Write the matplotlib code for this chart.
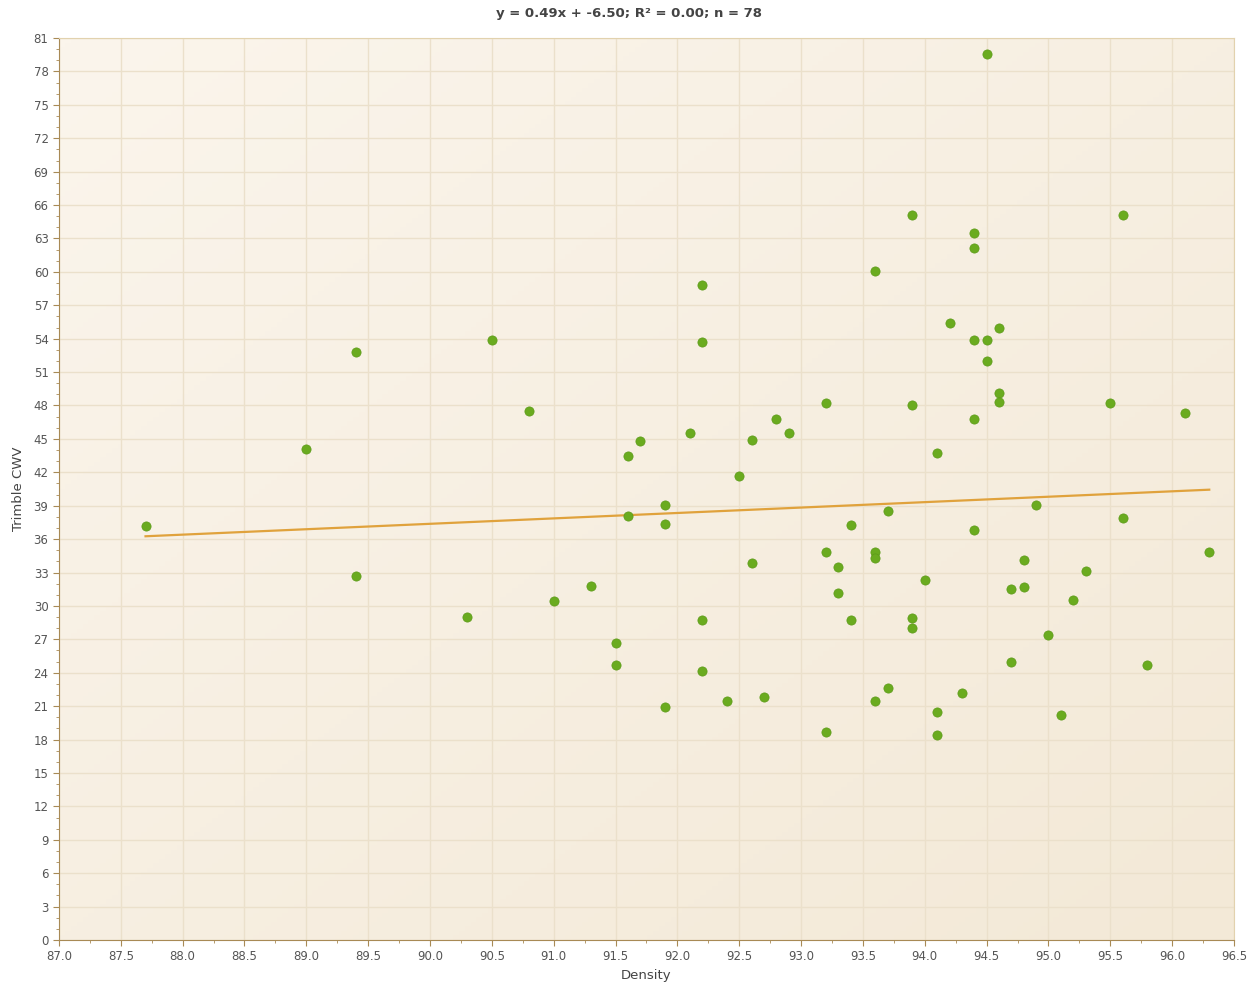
import numpy as np
import matplotlib
matplotlib.use("Agg")
import matplotlib.pyplot as plt
from matplotlib.colors import LinearSegmentedColormap
from matplotlib.ticker import MultipleLocator, FormatStrFormatter

density = [87.7, 89.0, 89.4, 89.4, 90.3, 90.5, 90.8, 91.0, 91.3, 91.5,
           91.5, 91.6, 91.6, 91.7, 91.9, 91.9, 91.9, 92.1, 92.2, 92.2,
           92.2, 92.2, 92.4, 92.5, 92.6, 92.6, 92.7, 92.8, 92.9, 93.2,
           93.2, 93.2, 93.3, 93.3, 93.4, 93.4, 93.6, 93.6, 93.6, 93.6,
           93.7, 93.7, 93.9, 93.9, 93.9, 93.9, 94.0, 94.1, 94.1, 94.1,
           94.2, 94.3, 94.4, 94.4, 94.4, 94.4, 94.4, 94.5, 94.5, 94.5,
           94.6, 94.6, 94.6, 94.7, 94.7, 94.8, 94.8, 94.9, 95.0, 95.1,
           95.2, 95.3, 95.5, 95.6, 95.6, 95.8, 96.1, 96.3]
cwv = [37.2, 44.1, 52.8, 32.7, 29.0, 53.9, 47.5, 30.4, 31.8, 26.7,
       24.7, 43.5, 38.1, 44.8, 39.1, 37.4, 20.9, 45.5, 58.8, 53.7,
       28.7, 24.2, 21.5, 41.7, 44.9, 33.9, 21.8, 46.8, 45.5, 48.2,
       34.8, 18.7, 33.5, 31.2, 37.3, 28.7, 60.1, 34.8, 34.3, 21.5,
       38.5, 22.6, 65.1, 48.0, 28.9, 28.0, 32.3, 43.7, 20.5, 18.4,
       55.4, 22.2, 63.5, 62.1, 53.9, 46.8, 36.8, 79.6, 53.9, 52.0,
       55.0, 49.1, 48.3, 31.5, 25.0, 34.1, 31.7, 39.1, 27.4, 20.2,
       30.5, 33.1, 48.2, 65.1, 37.9, 24.7, 47.3, 34.8]
title = "y = 0.49x + -6.50; R\u00b2 = 0.00; n = 78"

fig = plt.figure(figsize=(12.57, 9.9), dpi=100)
ax = fig.add_axes([0.0469, 0.0505, 0.9348, 0.9111])

# soft cream gradient, light at top-left, warmer at bottom-right
cmap = LinearSegmentedColormap.from_list("bg", ["#fbf5ec", "#f3e9d7"])
gx, gy = np.meshgrid(np.linspace(0, 1, 200), np.linspace(0, 1, 200))
ax.imshow(gx * 0.5 + gy * 0.5, cmap=cmap, extent=[0, 1, 0, 1],
          transform=ax.transAxes, aspect="auto", zorder=0)

x = np.array(density)
y = np.array(cwv)
k, b = np.polyfit(x, y, 1)
xs = np.array([x.min(), x.max()])
ax.plot(xs, k * xs + b, color="#e0a23c", lw=1.6, zorder=3)
ax.scatter(x, y, s=44, color="#6aab1f", edgecolors="#5c9a18",
           linewidths=0.5, zorder=4)

ax.set_xlim(87.0, 96.5)
ax.set_ylim(0, 81)
ax.xaxis.set_major_locator(MultipleLocator(0.5))
ax.xaxis.set_minor_locator(MultipleLocator(0.25))
ax.yaxis.set_major_locator(MultipleLocator(3))
ax.yaxis.set_minor_locator(MultipleLocator(1))
ax.xaxis.set_major_formatter(FormatStrFormatter("%.1f"))
ax.grid(True, which="major", color="#ebe0cb", lw=1.0, zorder=1)
ax.set_axisbelow(True)

for side in ["top", "right"]:
    ax.spines[side].set_color("#e2d2ae")
for side in ["left", "bottom"]:
    ax.spines[side].set_color("#a88a55")
ax.tick_params(which="major", length=4, color="#a88a55",
               labelsize=8.5, labelcolor="#555555")
ax.tick_params(which="minor", length=2, color="#a88a55")

ax.set_xlabel("Density", fontsize=9.5, color="#444444", labelpad=4)
ax.set_ylabel("Trimble CWV", fontsize=9.5, color="#444444", labelpad=6)
fig.text(0.5, 0.986, title, ha="center", va="center", fontsize=9.5,
         color="#444444", fontweight="semibold")

fig.savefig("out.png", dpi=100)
